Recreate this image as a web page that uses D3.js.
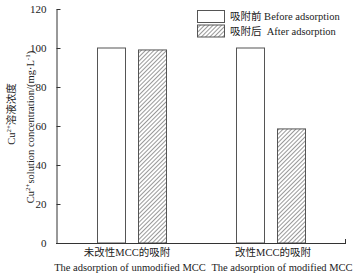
<!DOCTYPE html>
<html><head><meta charset="utf-8">
<script src="https://cdn.jsdelivr.net/npm/d3@7"></script>
<style>body{margin:0;background:#fff}svg{display:block}</style>
</head><body>
<svg id="c" width="358" height="275"></svg>
<script>
const categoriesZh = ["未改性MCC的吸附", "改性MCC的吸附"];
const categoriesEn = ["The adsorption of unmodified MCC", "The adsorption of modified MCC"];
const seriesNames = ["吸附前 Before adsorption", "吸附后  After adsorption"];
const beforeValues = [100, 100];
const afterValues = [99, 58.5];
const yTicks = [0, 20, 40, 60, 80, 100, 120];

const svg = d3.select("#c");
const serif = "'Liberation Serif','Times New Roman','Noto Sans CJK SC',serif";
const mLeft = 56, mRight = 346, mTop = 9, mBottom = 243;

const defs = svg.append("defs");
const pat = defs.append("pattern").attr("id","hatch").attr("patternUnits","userSpaceOnUse")
  .attr("width",3).attr("height",3).attr("patternTransform","rotate(45)");
pat.append("rect").attr("width",3).attr("height",3).attr("fill","#fff");
pat.append("line").attr("x1",0).attr("y1",0).attr("x2",0).attr("y2",3)
  .attr("stroke","#333").attr("stroke-width",1);

const y = d3.scaleLinear().domain([0,120]).range([mBottom, mTop]);
const x0 = d3.scaleBand().domain(d3.range(categoriesEn.length)).range([mLeft, mRight])
  .paddingInner(0.5).paddingOuter(0.3007);
const x1 = d3.scaleBand().domain([0,1]).range([0, x0.bandwidth()]).paddingInner(13/41).paddingOuter(0);

// bars
const data = [];
categoriesEn.forEach((c,i)=>{
  data.push({i, s:0, v:beforeValues[i]});
  data.push({i, s:1, v:afterValues[i]});
});
svg.append("g").selectAll("rect").data(data).join("rect")
  .attr("x", d=>Math.round(x0(d.i)+x1(d.s))+0.5).attr("width", Math.round(x1.bandwidth()))
  .attr("y", d=>y(d.v)).attr("height", d=>y(0)-y(d.v))
  .attr("fill", d=>d.s===0?"#fff":"url(#hatch)")
  .attr("stroke", "#555").attr("stroke-width", 1);

// y axis
const yAxis = d3.axisLeft(y).tickValues(yTicks).tickSizeInner(-4).tickSizeOuter(0).tickPadding(10);
const gy = svg.append("g").attr("transform",`translate(${mLeft+0.5},0)`).call(yAxis);
gy.selectAll("text").attr("font-family",serif).attr("font-size",11).attr("fill","#222");
gy.selectAll("line,path").attr("stroke","#333");

// x axis
const gx = svg.append("g");
gx.append("line").attr("x1",mLeft).attr("x2",mRight).attr("y1",mBottom+0.5).attr("y2",mBottom+0.5).attr("stroke","#333");
gx.append("line").attr("x1",mRight-0.5).attr("x2",mRight-0.5).attr("y1",mBottom+0.5).attr("y2",mBottom-4).attr("stroke","#333");

// category labels
const cx = i => x0(i) + x0.bandwidth()/2;
categoriesZh.forEach((t,i)=>{
  svg.append("text").attr("x",cx(i)+(i?3:-5)).attr("y",256).attr("text-anchor","middle")
    .attr("font-family",serif).attr("font-size",10.5).attr("fill","#222").text(t);
});
categoriesEn.forEach((t,i)=>{
  svg.append("text").attr("x",cx(i)+(i?12:-2)).attr("y",271).attr("text-anchor","middle")
    .attr("font-family",serif).attr("font-size",10.5).attr("fill","#222").text(t);
});

// y labels
const yl1 = svg.append("text").attr("transform","translate(15,114) rotate(-90)").attr("text-anchor","middle")
  .attr("font-family",serif).attr("font-size",10.5).attr("fill","#222");
yl1.append("tspan").text("Cu");
yl1.append("tspan").attr("font-size",7).attr("dy",-4).text("2+");
yl1.append("tspan").attr("dy",4).text("溶液浓度");
const yl2 = svg.append("text").attr("transform","translate(34,127) rotate(-90)").attr("text-anchor","middle")
  .attr("font-family",serif).attr("font-size",10.5).attr("fill","#222");
yl2.append("tspan").text("Cu");
yl2.append("tspan").attr("font-size",7).attr("dy",-4).text("2+");
yl2.append("tspan").attr("dy",4).text("solution concentration/(mg·L");
yl2.append("tspan").attr("font-size",7).attr("dy",-4).text("-1");
yl2.append("tspan").attr("dy",4).text(")");

// legend
const lg = svg.append("g");
seriesNames.forEach((n,i)=>{
  lg.append("rect").attr("x",197.5).attr("y",10.5+i*14.5).attr("width",27).attr("height",12)
    .attr("fill", i===0?"#fff":"url(#hatch)").attr("stroke","#555");
  lg.append("text").attr("x",230).attr("y",20+i*14.5).attr("font-family",serif).attr("font-size",10.5)
    .attr("fill","#222").style("white-space","pre").text(n);
});
</script>
</body></html>
